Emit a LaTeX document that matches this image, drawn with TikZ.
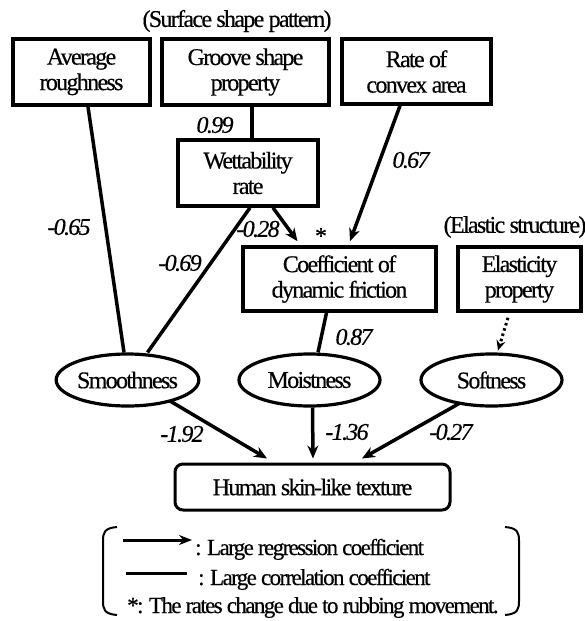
\documentclass[tikz,border=0pt]{standalone}
\usepackage{fontspec}
\setmainfont{Liberation Serif}[LetterSpace=-7,FakeBold=0.4]
\usetikzlibrary{shapes.geometric,arrows.meta,calc}
\newcommand\diagsz{\fontsize{24}{25.5}\selectfont}
\newcommand\legsz{\fontsize{23}{24}\selectfont}
\begin{document}
\begin{tikzpicture}[x=1pt,y=-1pt,
  every node/.style={font=\diagsz,inner sep=0pt},
  bx/.style={draw,line width=3.5pt,align=center,minimum height=66pt},
  ell/.style={draw,ellipse,line width=3.2pt,minimum width=141pt,minimum height=52pt},
  fin/.style={draw,rounded corners=8pt,line width=3pt,minimum width=275pt,minimum height=46pt},
  conn/.style={line width=3.5pt},
  arr/.style={line width=3.5pt,-{Stealth[length=13pt,width=11pt]}},
  dots/.style={line width=3pt,dash pattern=on 2.5pt off 3pt,-{Stealth[length=10pt,width=9pt]}},
  num/.style={font=\diagsz\itshape},
  leg/.style={font=\legsz,anchor=base west},
  brk/.style={line width=2pt}]
\useasboundingbox (0,0) rectangle (585,621);
% boxes
\node[bx,minimum width=137pt] (avg) at (81.5,72) {Average\\roughness};
\node[bx,minimum width=167pt] (groove) at (245.5,72) {Groove shape\\property};
\node[bx,minimum width=149pt,minimum height=65pt] (rate) at (416.5,71.5) {Rate of\\convex area};
\node[bx,minimum width=140pt] (wet) at (248,173) {Wettability\\rate};
\node[bx,minimum width=193pt,minimum height=64pt] (cof) at (339.5,279) {Coefficient of\\dynamic friction};
\node[bx,minimum width=123pt,minimum height=64pt] (ela) at (519.5,279) {Elasticity\\property};
% ellipses
\node[ell] (smooth) at (127.5,380) {Smoothness};
\node[ell] (moist) at (309.5,380) {Moistness};
\node[ell] (soft) at (491.5,380) {Softness};
% final
\node[fin] (human) at (312.5,487) {Human skin-like texture};
% group labels
\node (surf) at (237,21) {(Surface shape pattern)};
\node (elast) at (515,227) {(Elastic structure)};
% connectors
\draw[conn] ($(avg.south)+(6.5,0)$) -- ($(smooth.north)+(-3.5,0)$);
\draw[conn] ($(groove.south)+(6.5,0)$) -- ($(wet.north)+(4,0)$);
\draw[arr] ($(rate.south)+(-16.5,0)$) -- ($(cof.north)+(10.5,-4)$);
\draw[arr] ($(wet.south)+(25,0)$) -- ($(cof.north)+(-42,-4)$);
\draw[conn] ($(wet.south)+(2,0)$) -- ($(smooth.north)+(20,0)$);
\draw[conn] ($(cof.south)+(-13,0)$) -- ($(moist.north)+(8.5,0)$);
\draw[dots] ($(ela.south)+(-11.5,5)$) -- ($(soft.north)+(6.5,-2)$);
\draw[arr] ($(smooth.center)+(42.5,21)$) -- ($(human.north)+(-45.5,-4)$);
\draw[arr] ($(moist.south)+(3,0)$) -- ($(human.north)+(0.5,-4)$);
\draw[arr] ($(soft.center)+(-31.5,23)$) -- ($(human.north)+(49.5,-4)$);
% numbers
\node[num] (n1) at (215,125) {0.99};
\node[num] (n2) at (411,160) {0.67};
\node[num] (n3) at (69,227) {-0.65};
\node[num] (n4) at (180,263) {-0.69};
\node[num] (n5) at (258,229) {-0.28};
\node (star) at (321,236) {*};
\node[num] (n6) at (354,337) {0.87};
\node[num] (n7) at (182,434) {-1.92};
\node[num] (n8) at (347,432) {-1.36};
\node[num] (n9) at (451,432) {-0.27};
% legend
\draw[brk] (117,527) .. controls (104,528) and (103,533) .. (103,541) -- (103,601) .. controls (103,609) and (104,614) .. (117,615);
\draw[brk] (505,527) .. controls (518,528) and (519,533) .. (519,541) -- (519,601) .. controls (519,609) and (518,614) .. (505,615);
\coordinate (la1) at (123,540);
\coordinate (la2) at (192,540);
\draw[line width=3pt,-{Stealth[length=13pt,width=10pt]}] (la1) -- (la2);
\node[leg] (lt1) at (195,555) {: Large regression coefficient};
\coordinate (lb1) at (126,573);
\coordinate (lb2) at (187,573);
\draw[line width=3pt] (lb1) -- (lb2);
\node[leg] (lt2) at (198,585) {: Large correlation coefficient};
\node[leg] (lt3) at (127,613) {*: The rates change due to rubbing movement.};
\end{tikzpicture}
\end{document}
